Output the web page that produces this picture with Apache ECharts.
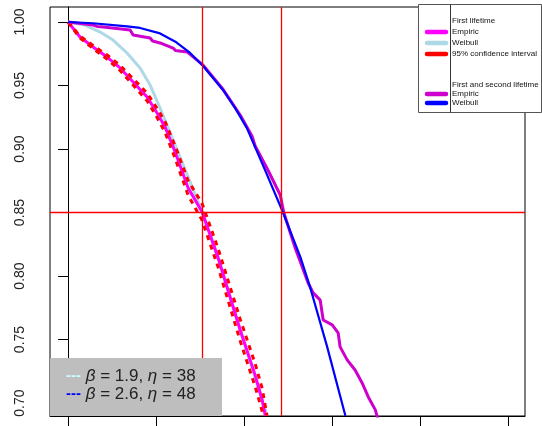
<!DOCTYPE html>
<html>
<head>
<meta charset="utf-8">
<script src="https://cdn.jsdelivr.net/npm/echarts@6/dist/echarts.min.js"></script>
<style>
html,body{margin:0;padding:0;background:#fff;}
#chart{width:542px;height:426px;}
</style>
</head>
<body>
<div id="chart"></div>
<script>
// ---- data ----
const xTicks = [0, 10, 20, 30, 40, 50];
const yTicks = [0.70, 0.75, 0.80, 0.85, 0.90, 0.95, 1.00];

// First lifetime – Weibull (beta=1.9, eta=38)
const w1T = [0, 1.93, 3.64, 5.11, 6.7, 8.18, 9.32, 10.45, 11.93, 13.64, 15.23, 17.05, 19.55, 22.6];
const w1S = [1.000, 0.9976, 0.9921, 0.9858, 0.9756, 0.9638, 0.9504, 0.9323, 0.9071, 0.878, 0.8504, 0.8142, 0.7575, 0.690];

// First lifetime – Empiric
const e1T = [0, 1.36, 2.84, 4.43, 5.91, 7.39, 8.98, 10.11, 11.02, 12.16, 13.64, 15.23, 17.05, 19.55, 21.25, 22.05, 22.4];
const e1S = [1.000, 0.9882, 0.9803, 0.9724, 0.9638, 0.9528, 0.941, 0.9284, 0.9173, 0.8976, 0.8693, 0.8504, 0.8142, 0.7575, 0.722, 0.7024, 0.690];

// First lifetime – 95% confidence interval
const ciT = [0, 1.36, 2.84, 4.43, 5.91, 7.39, 8.98, 10.11, 11.02, 12.16, 13.64, 15.23, 17.05, 19.55, 21.25, 22.05, 22.6];
const ciUp = [1.000, 0.9890, 0.9815, 0.9740, 0.9658, 0.9553, 0.9440, 0.9320, 0.9215, 0.9025, 0.8750, 0.8570, 0.8215, 0.7660, 0.7310, 0.7115, 0.690];
const ciLoT = [0, 1.36, 2.84, 4.43, 5.91, 7.39, 8.98, 10.11, 11.02, 12.16, 13.64, 15.23, 17.05, 19.55, 21.25, 22.05, 22.15];
const ciLo = [1.000, 0.9874, 0.9791, 0.9708, 0.9618, 0.9503, 0.9380, 0.9248, 0.9131, 0.8927, 0.8636, 0.8438, 0.8069, 0.7490, 0.7130, 0.6935, 0.690];

// First and second lifetime – Weibull (beta=2.6, eta=48)
const w2T = [0, 2.84, 6.7, 8.18, 10.45, 12.3, 13.86, 15.34, 17.6, 19.0, 20.3, 22.4, 24.3, 26.4, 27.5, 29.4, 31.5];
const w2S = [1.000, 0.999, 0.9965, 0.9953, 0.991, 0.984, 0.9756, 0.9654, 0.9465, 0.932, 0.9166, 0.883, 0.852, 0.8147, 0.791, 0.745, 0.690];

// First and second lifetime – Empiric
const e2T = [0, 2.84, 3.3, 3.98, 7.05, 7.39, 9.32, 9.6, 10.45, 11.93, 12.2, 13.52, 15.34, 17.6, 19.55, 20.9, 21.25, 22.7, 24.1, 24.5, 25.8, 27.27, 27.84, 28.64, 28.98, 30.0, 30.68, 30.9, 31.7, 32.6, 33.4, 34.1, 34.9, 35.2];
const e2S = [1.000, 0.9976, 0.9965, 0.9961, 0.9937, 0.9898, 0.9874, 0.9850, 0.9835, 0.9795, 0.9775, 0.9764, 0.966, 0.947, 0.9268, 0.9100, 0.9024, 0.8835, 0.8638, 0.850, 0.822, 0.7945, 0.7867, 0.781, 0.7654, 0.7615, 0.7552, 0.7442, 0.734, 0.726, 0.7158, 0.7048, 0.6946, 0.687];

// reference lines
const refX = [15.23, 24.2];
const refY = [0.85];

const legendRows = [
  { text: 'First lifetime', color: null },
  { text: 'Empiric', color: '#ff00ff' },
  { text: 'Weibull', color: '#add8e6' },
  { text: '95% confidence interval', color: '#ff0000' },
  { text: '', color: null },
  { text: 'First and second lifetime', color: null },
  { text: 'Empiric', color: '#cd00cd' },
  { text: 'Weibull', color: '#0000ff' }
];
const paramText = [
  { dash: '#c8ffff', beta: '1.9', eta: '38' },
  { dash: '#0000ff', beta: '2.6', eta: '48' }
];

const zip = (a, b) => a.map((v, i) => [v, b[i]]);

const chart = echarts.init(document.getElementById('chart'), null, { renderer: 'canvas' });

const legendY = [21, 32, 43, 54, 0, 85, 94, 103];
const graphics = [];
graphics.push({ type: 'rect', z: 100, shape: { x: 418.5, y: 4.5, width: 123, height: 108 },
  style: { fill: '#fff', stroke: '#555', lineWidth: 1 } });
graphics.push({ type: 'line', z: 101, shape: { x1: 450.5, y1: 4.5, x2: 450.5, y2: 112.5 },
  style: { stroke: '#333', lineWidth: 1 } });
legendRows.forEach((r, i) => {
  if (!r.text) return;
  const y = legendY[i];
  if (r.color) {
    graphics.push({ type: 'line', z: 102, shape: { x1: 427, y1: y, x2: 446, y2: y },
      style: { stroke: r.color, lineWidth: 4.5, lineCap: 'round' } });
  }
  graphics.push({ type: 'text', z: 102, x: 452, y: y,
    style: { text: r.text, fill: '#111', font: '8px "Liberation Sans", Arial, sans-serif',
      textAlign: 'left', textVerticalAlign: 'middle' } });
});
graphics.push({ type: 'rect', z: 100, shape: { x: 50, y: 358, width: 172, height: 58 },
  style: { fill: '#bebebe', stroke: null } });
paramText.forEach((p, i) => {
  graphics.push({ type: 'text', z: 102, x: 66, y: 376 + i * 18,
    style: {
      text: '{d|---} {i|β} = ' + p.beta + ', {i|η} = ' + p.eta,
      textVerticalAlign: 'middle', textAlign: 'left',
      font: '17px "Liberation Sans", Arial, sans-serif', fill: '#222',
      rich: {
        d: { fill: p.dash, font: 'bold 15px "Liberation Sans", Arial, sans-serif' },
        i: { font: 'italic 17px "Liberation Sans", Arial, sans-serif', fill: '#222' }
      }
    } });
});

const lineS = (name, data, color, width, extra) => Object.assign({
  name, type: 'line', data, showSymbol: false, symbol: 'none', smooth: false,
  lineStyle: { color, width }, itemStyle: { color }, animation: false, clip: true
}, extra || {});

const option = {
  animation: false,
  grid: { left: 50, right: 17, top: 7, bottom: 10, show: true, borderColor: '#000', borderWidth: 1, backgroundColor: 'transparent' },
  xAxis: {
    type: 'value', min: -2.05, max: 51.9,
    axisLine: { show: true, lineStyle: { color: '#000' } },
    axisTick: { show: true, customValues: xTicks, length: 10, lineStyle: { color: '#000' } },
    axisLabel: { show: false },
    splitLine: { show: false }
  },
  yAxis: {
    type: 'value', min: 0.6898, max: 1.0118,
    axisLine: { show: true, lineStyle: { color: '#000' } },
    axisTick: { show: true, customValues: yTicks, length: 10, lineStyle: { color: '#000' } },
    axisLabel: { show: true, customValues: yTicks, rotate: 90, margin: 23, fontSize: 14,
      fontFamily: '"Liberation Sans", Arial, sans-serif', color: '#222',
      formatter: v => v.toFixed(2) },
    splitLine: { show: false }
  },
  graphic: graphics,
  series: [
    lineS('Weibull (first)', zip(w1T, w1S), '#add8e6', 3, {
      markLine: {
        silent: true, symbol: ['none', 'none'], label: { show: false },
        lineStyle: { color: '#ff0000', width: 1.3, type: 'solid' },
        data: refX.map(v => ({ xAxis: v })).concat(refY.map(v => ({ yAxis: v })))
      }
    }),
    lineS('Empiric (first)', zip(e1T, e1S), '#ff00ff', 3),
    lineS('CI upper', zip(ciT, ciUp), '#ff0000', 3, { lineStyle: { color: '#ff0000', width: 3, type: [5, 5] } }),
    lineS('CI lower', zip(ciLoT, ciLo), '#ff0000', 3, { lineStyle: { color: '#ff0000', width: 3, type: [5, 5] } }),
    lineS('Empiric (first and second)', zip(e2T, e2S), '#cd00cd', 3),
    lineS('Weibull (first and second)', zip(w2T, w2S), '#0000ff', 2.2)
  ]
};
chart.setOption(option);
</script>
</body>
</html>
